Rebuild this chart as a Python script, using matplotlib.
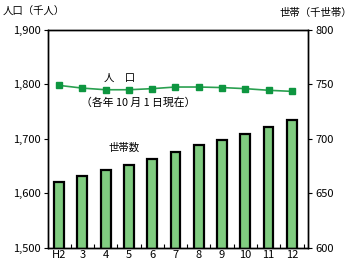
import matplotlib
matplotlib.use("Agg")
import matplotlib.pyplot as plt

plt.rcParams["font.family"] = ["Noto Sans CJK JP", "DejaVu Sans"]

years = ["H2", "3", "4", "5", "6", "7", "8", "9", "10", "11", "12"]
population = [1798, 1793, 1790, 1790, 1792, 1795, 1795, 1794, 1792, 1789, 1787]
households = [660, 666, 671, 676, 681, 688, 694, 699, 704, 711, 717]

fig = plt.figure(figsize=(3.6, 2.62), dpi=100)
ax = fig.add_axes([0.133, 0.055, 0.723, 0.831])
ax2 = ax.twinx()

x = list(range(len(years)))
ax2.bar(x, households, width=0.42, color="#80cc80", edgecolor="black",
        linewidth=1.6, zorder=2)
ax.plot(x, population, color="#2aa050", linewidth=1.2, marker="s",
        markersize=4, markerfacecolor="#0e9640", markeredgecolor="#0e9640")

ax.set_zorder(ax2.get_zorder() + 1)
ax.patch.set_visible(False)

ax.set_xlim(-0.48, 10.7)
ax.set_ylim(1500, 1900)
ax2.set_ylim(600, 800)
ax.set_yticks([1500, 1600, 1700, 1800, 1900])
ax.set_yticklabels(["1,500", "1,600", "1,700", "1,800", "1,900"])
ax2.set_yticks([600, 650, 700, 750, 800])

ax.set_xticks(x)
ax.set_xticklabels(years)
ax.set_xticks([i + 0.5 for i in x], minor=True)
ax.tick_params(axis="x", which="major", length=0, pad=1.5, labelsize=8)
ax.tick_params(axis="x", which="minor", direction="in", length=3, width=0.8)
ax.tick_params(axis="y", length=3, width=0.8, labelsize=8, pad=2)
ax2.tick_params(axis="y", length=3, width=0.8, labelsize=8, pad=2)

for a in (ax, ax2):
    for s in a.spines.values():
        s.set_linewidth(1.0)

fig.text(0.008, 0.955, "人口（千人）", fontsize=7.5, va="center", ha="left")
fig.text(0.978, 0.952, "世帯（千世帯）", fontsize=7.5, va="center", ha="right")
ax.text(2.6, 1812, "人　口", fontsize=7.5, ha="center", va="center")
ax.text(3.4, 1766, "（各年 10 月 1 日現在）", fontsize=7.8, ha="center", va="center")
ax.text(2.8, 1684, "世帯数", fontsize=7.5, ha="center", va="center")

fig.savefig("out.png", dpi=100)
